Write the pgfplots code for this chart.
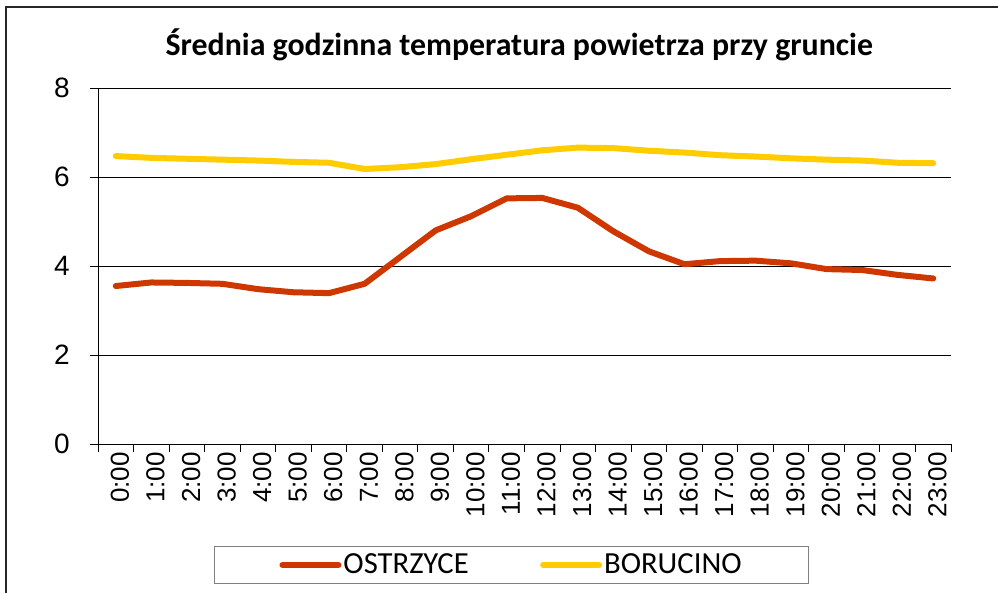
\documentclass[border=0pt]{standalone}
\usepackage{fontspec}
\setmainfont{Carlito}
\newfontfamily\arial{Liberation Sans}
\usepackage{pgfplots}
\pgfplotsset{compat=1.18}
\definecolor{cRed}{RGB}{206,56,0}
\definecolor{cYel}{RGB}{255,204,0}
\newcommand{\h}[1]{\mbox{\arial\fontsize{19.5pt}{19.5pt}\selectfont #1:00}}
\begin{document}
\begin{tikzpicture}
\useasboundingbox (0,0) rectangle (748.5pt,444.75pt);
\draw[line width=1.5pt, black!85] (4.5pt,0pt) -- (4.5pt,439.5pt) -- (748.5pt,439.5pt);
\node[anchor=base, font=\bfseries\fontsize{23.9}{26}\selectfont, inner sep=0pt] at (389.5pt,403pt) {Średnia godzinna temperatura powietrza przy gruncie};
\begin{axis}[
  at={(73.5pt,111.75pt)}, anchor=south west,
  scale only axis, width=639.75pt, height=267pt,
  xmin=0, xmax=24, ymin=0, ymax=8,
  axis x line*=bottom, axis y line*=left,
  axis line style={black, line width=0.75pt},
  xtick={0.5,1.5,...,23.5}, ytick={0,2,4,6,8},
  minor xtick={0,1,...,24},
  xticklabels={\h{0},\h{1},\h{2},\h{3},\h{4},\h{5},\h{6},\h{7},\h{8},\h{9},\h{10},\h{11},\h{12},\h{13},\h{14},\h{15},\h{16},\h{17},\h{18},\h{19},\h{20},\h{21},\h{22},\h{23}},
  tick align=outside, major tick length=6pt, minor tick length=6pt,
  tick style={black, line width=0.75pt},
  major x tick style={draw=none},
  minor x tick style={black, line width=0.75pt},
  ymajorgrids, major grid style={black, line width=0.75pt},
  /pgf/number format/assume math mode=true,
  yticklabel style={font=\arial\fontsize{21pt}{21pt}\selectfont, inner sep=0pt, xshift=-15pt},
  xticklabel style={font=\arial\fontsize{19.5pt}{19.5pt}\selectfont, rotate=90, anchor=mid east, inner sep=0pt, yshift=-7.5pt},
  legend columns=2,
  legend style={at={(0.4848,-0.340)}, anchor=center, draw=black!50, line width=0.75pt,
    font=\fontsize{23}{27}\selectfont, inner xsep=49pt, inner ysep=4pt,
    nodes={inner sep=1.5pt},
    /tikz/every even column/.append style={column sep=52pt}},
  legend image code/.code={\draw[#1] (0pt,0pt) -- (42pt,0pt);},
  every axis plot/.append style={line width=4.5pt, line cap=round, line join=round},
]
\addplot[cRed] coordinates {
(0.5,3.55) (1.5,3.63) (2.5,3.62) (3.5,3.60) (4.5,3.48) (5.5,3.41) (6.5,3.39) (7.5,3.60)
(8.5,4.20) (9.5,4.80) (10.5,5.12) (11.5,5.52) (12.5,5.53) (13.5,5.31) (14.5,4.78) (15.5,4.33)
(16.5,4.04) (17.5,4.11) (18.5,4.12) (19.5,4.06) (20.5,3.93) (21.5,3.91) (22.5,3.80) (23.5,3.72)};
\addlegendentry{OSTRZYCE}
\addplot[cYel] coordinates {
(0.5,6.47) (1.5,6.43) (2.5,6.41) (3.5,6.39) (4.5,6.37) (5.5,6.34) (6.5,6.32) (7.5,6.18)
(8.5,6.22) (9.5,6.29) (10.5,6.40) (11.5,6.50) (12.5,6.60) (13.5,6.66) (14.5,6.65) (15.5,6.59)
(16.5,6.55) (17.5,6.49) (18.5,6.46) (19.5,6.42) (20.5,6.39) (21.5,6.37) (22.5,6.32) (23.5,6.31)};
\addlegendentry{BORUCINO}
\end{axis}
\end{tikzpicture}
\end{document}
